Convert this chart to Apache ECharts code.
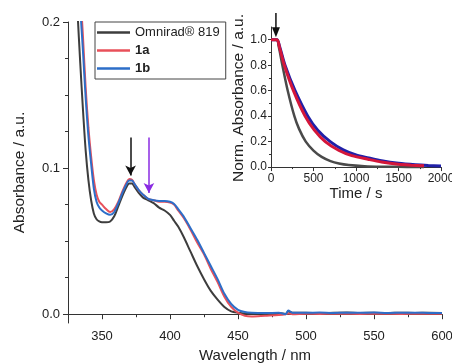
<!DOCTYPE html>
<html>
<head>
<meta charset="utf-8">
<script src="https://cdn.jsdelivr.net/npm/echarts@6/dist/echarts.min.js"></script>
<style>
  html, body { margin: 0; padding: 0; background: #fff; }
  #main { width: 452px; height: 363px; }
</style>
</head>
<body>
<div id="main"></div>
<script>
// main spectra (wavelength in nm, absorbance in a.u.)
var wavelength = [330, 332, 334, 336, 338, 340, 342, 344, 346, 348, 350, 353, 356, 359, 362, 365, 368, 370, 372, 374,
  377, 380, 384, 388, 392, 396, 400, 403, 406, 410, 415, 420, 425, 430, 435, 440, 445, 450, 455, 460,
  470, 480, 485, 487, 490, 500, 510, 520, 530, 540, 550, 560, 570, 580, 590, 600];
var absOmnirad = [0.245, 0.207, 0.172, 0.14, 0.112, 0.092, 0.078, 0.069, 0.065, 0.0635, 0.063, 0.063, 0.0635, 0.067, 0.074, 0.081, 0.087, 0.0895, 0.0895, 0.087,
  0.083, 0.080, 0.078, 0.076, 0.073, 0.071, 0.068, 0.064, 0.060, 0.053, 0.043, 0.033, 0.024, 0.016, 0.010, 0.005, 0.002, 0.001, 0.0005, 0.0005,
  0.0005, 0.0008, 0.0002, 0.002, 0.001, 0.001, 0.0008, 0.001, 0.0012, 0.0009, 0.001, 0.0008, 0.0011, 0.0009, 0.001, 0.0009];
var abs1a = [0.30, 0.255, 0.222, 0.19, 0.155, 0.128, 0.108, 0.092, 0.082, 0.077, 0.075, 0.072, 0.070, 0.072, 0.077, 0.084, 0.090, 0.0925, 0.092, 0.089,
  0.085, 0.082, 0.079, 0.078, 0.077, 0.077, 0.0765, 0.075, 0.071, 0.066, 0.058, 0.049, 0.041, 0.031, 0.022, 0.012, 0.005, 0.001, -0.001, -0.0015,
  -0.001, -0.0005, 0, 0.0005, 0, 0.0003, 0.0002, 0.0004, 0.0003, 0.0002, 0.0004, 0.0003, 0.0002, 0.0003, 0.0004, 0.0003];
var abs1b = [0.29, 0.245, 0.21, 0.18, 0.148, 0.122, 0.103, 0.086, 0.077, 0.073, 0.071, 0.069, 0.068, 0.070, 0.076, 0.083, 0.089, 0.0915, 0.0915, 0.089,
  0.085, 0.082, 0.079, 0.078, 0.0775, 0.0775, 0.077, 0.0755, 0.072, 0.067, 0.059, 0.051, 0.042, 0.033, 0.024, 0.014, 0.007, 0.003, 0.0015, 0.001,
  0.0008, 0.001, 0.0, 0.0025, 0.001, 0.001, 0.0012, 0.0009, 0.0011, 0.001, 0.0012, 0.0009, 0.001, 0.0011, 0.0009, 0.0008];

// inset kinetics (time in s, normalised absorbance)
var timeOmnirad = [0, 70, 90, 134, 197, 275, 330, 409, 500, 596, 700, 800, 914, 1100, 1300, 1500, 1700, 1800];
var normOmnirad = [1, 1, 0.95, 0.8, 0.6, 0.4, 0.3, 0.2, 0.13, 0.08, 0.047, 0.028, 0.016, 0.007, 0.003, 0.002, 0.001, 0.001];
var time1a = [0, 70, 100, 157, 264, 401, 510, 638, 800, 950, 1150, 1300, 1500, 1650, 1800];
var norm1a = [1, 1, 0.94, 0.8, 0.6, 0.4, 0.29, 0.2, 0.13, 0.09, 0.06, 0.04, 0.022, 0.015, 0.01];
var time1b = [0, 70, 100, 165, 283, 433, 550, 697, 850, 1000, 1150, 1300, 1500, 1700, 1850, 2000];
var norm1b = [1, 1, 0.95, 0.8, 0.6, 0.4, 0.29, 0.2, 0.135, 0.095, 0.072, 0.05, 0.03, 0.018, 0.012, 0.008];

// ticks
var mainXMajor = [350, 400, 450, 500, 550, 600];
var mainXMinor = [325, 375, 425, 475, 525, 575];
var mainYMajor = [0, 0.1, 0.2];
var mainYMinor = [0.025, 0.05, 0.075, 0.125, 0.15, 0.175];
var insetYMajor = [0, 0.2, 0.4, 0.6, 0.8, 1.0];
var insetYMinor = [0.1, 0.3, 0.5, 0.7, 0.9];

// arrows: [x, top, tip]
var arrowMainBlack = [371, 0.121, 0.095];
var arrowMainPurple = [384.5, 0.121, 0.083];
var arrowInset = [58, 1.21, 1.02];

var names = ['Omnirad® 819', '1a', '1b'];

function pairs(xs, ys) {
  return xs.map(function (x, i) { return [x, ys[i]]; });
}

var font = 'Liberation Sans, Arial, sans-serif';
var axisCol = '#333';

function majorAxis(extra) {
  var base = {
    axisLine: { show: true, lineStyle: { color: axisCol, width: 1 } },
    axisTick: { show: true, inside: false, length: 5, lineStyle: { color: axisCol } },
    axisLabel: { color: '#222', fontFamily: font, fontSize: 13 },
    splitLine: { show: false },
    nameTextStyle: { color: '#222', fontFamily: font, fontSize: 15.5 }
  };
  return Object.assign(base, extra);
}
function minorAxis(extra) {
  var base = {
    axisLine: { show: false },
    axisTick: { show: true, inside: false, length: 3, lineStyle: { color: axisCol } },
    axisLabel: { show: false },
    splitLine: { show: false }
  };
  return Object.assign(base, extra);
}

var chart = echarts.init(document.getElementById('main'), null, { renderer: 'canvas' });

var option = {
  animation: false,
  backgroundColor: '#fff',
  textStyle: { fontFamily: font },
  grid: [
    { left: 68, right: 10, top: 22, bottom: 40, outerBoundsMode: 'none', containLabel: false },
    { left: 271, right: 11, top: 27, bottom: 194, outerBoundsMode: 'none', containLabel: false }
  ],
  legend: {
    left: 95, top: 22,
    orient: 'vertical',
    icon: 'rect',
    itemWidth: 33, itemHeight: 2.5,
    itemGap: 5,
    padding: [4, 6, 4, 2],
    borderColor: '#444', borderWidth: 1,
    textStyle: { color: '#222', fontFamily: font, fontSize: 13 },
    data: [
      { name: names[0] },
      { name: names[1], textStyle: { fontWeight: 'bold' } },
      { name: names[2], textStyle: { fontWeight: 'bold' } }
    ]
  },
  xAxis: [
    majorAxis({ gridIndex: 0, type: 'value', min: 325, max: 600, position: 'bottom',
      name: 'Wavelength / nm', nameLocation: 'middle', nameGap: 19,
      nameTextStyle: { color: '#222', fontFamily: font, fontSize: 15 },
      axisTick: { show: true, length: 5, lineStyle: { color: axisCol }, customValues: mainXMajor },
      axisLabel: { color: '#222', fontFamily: font, fontSize: 13, margin: 7, customValues: mainXMajor } }),
    minorAxis({ gridIndex: 0, type: 'value', min: 325, max: 600, position: 'bottom',
      axisTick: { show: true, length: 3, lineStyle: { color: axisCol }, customValues: mainXMinor } }),
    majorAxis({ gridIndex: 1, type: 'value', min: 0, max: 2000, interval: 500, position: 'bottom',
      name: 'Time / s', nameLocation: 'middle', nameGap: 17,
      nameTextStyle: { color: '#222', fontFamily: font, fontSize: 15 },
      axisTick: { show: true, length: 4, lineStyle: { color: axisCol } },
      axisLabel: { color: '#222', fontFamily: font, fontSize: 12, margin: 4,
        formatter: function (v) { return String(v); } },
      minorTick: { show: true, splitNumber: 2, length: 2, lineStyle: { color: axisCol } } })
  ],
  yAxis: [
    majorAxis({ gridIndex: 0, type: 'value', min: -0.006, max: 0.2, position: 'left',
      name: 'Absorbance / a.u.', nameLocation: 'middle', nameGap: 40,
      axisTick: { show: true, length: 5, lineStyle: { color: axisCol }, customValues: mainYMajor },
      axisLabel: { color: '#222', fontFamily: font, fontSize: 13, margin: 8, customValues: mainYMajor,
        formatter: function (v) { return v.toFixed(1); } } }),
    minorAxis({ gridIndex: 0, type: 'value', min: -0.006, max: 0.2, position: 'left',
      axisTick: { show: true, length: 3, lineStyle: { color: axisCol }, customValues: mainYMinor } }),
    majorAxis({ gridIndex: 1, type: 'value', min: -0.015, max: 1.1, position: 'left',
      name: 'Norm. Absorbance / a.u.', nameLocation: 'middle', nameGap: 20,
      axisTick: { show: true, length: 3, lineStyle: { color: axisCol }, customValues: insetYMajor },
      axisLabel: { color: '#222', fontFamily: font, fontSize: 12, margin: 4, customValues: insetYMajor,
        formatter: function (v) { return v.toFixed(1); } } }),
    minorAxis({ gridIndex: 1, type: 'value', min: -0.015, max: 1.1, position: 'left',
      axisTick: { show: true, length: 2, lineStyle: { color: axisCol }, customValues: insetYMinor } })
  ],
  series: [
    { name: names[0], type: 'line', xAxisIndex: 0, yAxisIndex: 0, data: pairs(wavelength, absOmnirad),
      smooth: 0.3, showSymbol: false, symbol: 'none', color: '#3d3d3d', lineStyle: { width: 2, color: '#3d3d3d' } },
    { name: names[1], type: 'line', xAxisIndex: 0, yAxisIndex: 0, data: pairs(wavelength, abs1a),
      smooth: 0.3, showSymbol: false, symbol: 'none', color: '#e8505a', lineStyle: { width: 2, color: '#e8505a' } },
    { name: names[2], type: 'line', xAxisIndex: 0, yAxisIndex: 0, data: pairs(wavelength, abs1b),
      smooth: 0.3, showSymbol: false, symbol: 'none', color: '#2d6ec8', lineStyle: { width: 2, color: '#2d6ec8' } },

    { name: 'inset ' + names[0], type: 'line', xAxisIndex: 2, yAxisIndex: 2, data: pairs(timeOmnirad, normOmnirad),
      smooth: 0.3, showSymbol: false, symbol: 'none', lineStyle: { width: 2.5, color: '#4a4a4a' } },
    { name: 'inset ' + names[2], type: 'line', xAxisIndex: 2, yAxisIndex: 2, data: pairs(time1b, norm1b),
      smooth: 0.3, showSymbol: false, symbol: 'none', lineStyle: { width: 3, color: '#2020a8' } },
    { name: 'inset ' + names[1], type: 'line', xAxisIndex: 2, yAxisIndex: 2, data: pairs(time1a, norm1a),
      smooth: 0.3, showSymbol: false, symbol: 'none', lineStyle: { width: 3, color: '#d4163a' } },

    // arrows in the main plot
    { name: 'arrows main', type: 'line', xAxisIndex: 0, yAxisIndex: 0, data: [], clip: false,
      markLine: { silent: true, symbol: ['none', 'arrow'], symbolSize: [8, 10], label: { show: false },
        data: [
          [{ coord: [arrowMainBlack[0], arrowMainBlack[1]], lineStyle: { color: '#111', width: 1.5, type: 'solid' } },
           { coord: [arrowMainBlack[0], arrowMainBlack[2]] }],
          [{ coord: [arrowMainPurple[0], arrowMainPurple[1]], lineStyle: { color: '#8a2be2', width: 1.5, type: 'solid' } },
           { coord: [arrowMainPurple[0], arrowMainPurple[2]] }]
        ] } }
  ]
};

chart.setOption(option);

// inset arrow starts above the inset axis range, so draw it as a graphic placed via the axis scale
var p0 = chart.convertToPixel({ xAxisIndex: 2, yAxisIndex: 2 }, [arrowInset[0], arrowInset[1]]);
var p1 = chart.convertToPixel({ xAxisIndex: 2, yAxisIndex: 2 }, [arrowInset[0], arrowInset[2]]);
chart.setOption({
  graphic: [
    { type: 'line', shape: { x1: p0[0], y1: p0[1], x2: p1[0], y2: p1[1] - 8 },
      style: { stroke: '#111', lineWidth: 1.5 }, silent: true },
    { type: 'polygon', shape: { points: [[p1[0] - 4, p1[1] - 10], [p1[0] + 4, p1[1] - 10], [p1[0], p1[1]]] },
      style: { fill: '#111' }, silent: true }
  ]
});
</script>
</body>
</html>
